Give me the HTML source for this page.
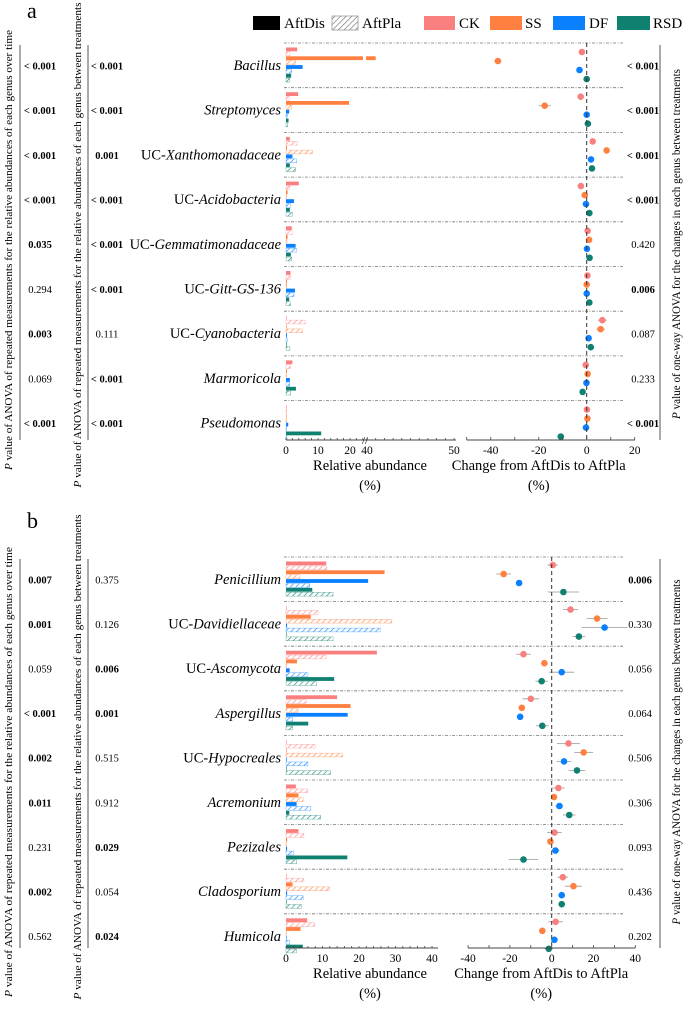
<!DOCTYPE html>
<html><head><meta charset="utf-8">
<style>
html,body{margin:0;padding:0;background:#fff;}
svg{display:block;font-family:"Liberation Serif",serif;}
</style></head>
<body>
<svg id="fig" width="685" height="1010" viewBox="0 0 685 1010" xmlns="http://www.w3.org/2000/svg">
<defs>
<pattern id="hatch-CK" patternUnits="userSpaceOnUse" width="4" height="4" patternTransform="rotate(45)"><line x1="0" y1="0" x2="0" y2="4" stroke="#fa8080" stroke-width="1.2"/></pattern>
<pattern id="hatch-SS" patternUnits="userSpaceOnUse" width="4" height="4" patternTransform="rotate(45)"><line x1="0" y1="0" x2="0" y2="4" stroke="#ff8040" stroke-width="1.2"/></pattern>
<pattern id="hatch-DF" patternUnits="userSpaceOnUse" width="4" height="4" patternTransform="rotate(45)"><line x1="0" y1="0" x2="0" y2="4" stroke="#0a80ff" stroke-width="1.2"/></pattern>
<pattern id="hatch-RSD" patternUnits="userSpaceOnUse" width="4" height="4" patternTransform="rotate(45)"><line x1="0" y1="0" x2="0" y2="4" stroke="#108070" stroke-width="1.2"/></pattern>
<pattern id="hatch-K" patternUnits="userSpaceOnUse" width="4" height="4" patternTransform="rotate(45)"><line x1="0" y1="0" x2="0" y2="4" stroke="#666" stroke-width="1.2"/></pattern>
</defs>
<text x="27" y="18" font-size="22">a</text>
<text x="27" y="528" font-size="22">b</text>
<g>
<rect x="253" y="16" width="27" height="14" fill="#000"/>
<text x="284" y="28" font-size="15">AftDis</text>
<rect x="332" y="16" width="26" height="14" fill="url(#hatch-K)" stroke="#999" stroke-width="0.8"/>
<text x="362" y="28" font-size="15">AftPla</text>
<rect x="424" y="16" width="31" height="14" fill="#fa8080"/>
<text x="459" y="28" font-size="15">CK</text>
<rect x="490" y="16" width="32" height="14" fill="#ff8040"/>
<text x="525" y="28" font-size="15">SS</text>
<rect x="553" y="16" width="32" height="14" fill="#0a80ff"/>
<text x="589" y="28" font-size="15">DF</text>
<rect x="617" y="16" width="33" height="14" fill="#108070"/>
<text x="653" y="28" font-size="15">RSD</text>
</g>
</svg>
<script>
// ---------- data ----------
const treatments = ["CK","SS","DF","RSD"];
const colors = ["#fa8080","#ff8040","#0a80ff","#108070"];
const genusA = ["Bacillus","Streptomyces","UC-Xanthomonadaceae","UC-Acidobacteria","UC-Gemmatimonadaceae","UC-Gitt-GS-136","UC-Cyanobacteria","Marmoricola","Pseudomonas"];
const genusB = ["Penicillium","UC-Davidiellaceae","UC-Ascomycota","Aspergillus","UC-Hypocreales","Acremonium","Pezizales","Cladosporium","Humicola"];
// bars: per genus [CKdis,CKpla,SSdis,SSpla,DFdis,DFpla,RSDdis,RSDpla]
const barsA = [
 [3.5,1.2,41,3,5.2,1.8,1.6,1.2],
 [3.8,1,19.7,1.8,1,0.4,0.8,0.5],
 [1.2,3.5,0.3,8.3,2,3.3,1.2,3],
 [4,1.2,0.5,0.2,2.5,1.5,1.2,2],
 [1.8,2,0.5,0.3,3,3.3,1.5,1.8],
 [1.4,1.4,0.3,0.2,2.8,2.5,1,1.4],
 [0.1,6,0.1,5.2,0.3,0.4,0.2,1.2],
 [2,1.4,0.3,0.1,1.2,1.2,3.1,1.4],
 [0.1,0.1,0.1,0.1,0.7,0.1,11,0.3]
];
const barsB = [
 [11,11.2,27,3.8,22.5,6.5,7.2,12.9],
 [0,8.8,6.8,29,0.3,25.8,0,12.9],
 [24.9,11,3,0,1,6,13.2,8.4],
 [14,5.5,17.7,3.3,16.9,1.8,6.1,1.8],
 [0,8,0,15.5,0.2,6,0,12.2],
 [2.7,6,3.4,4.7,2.9,6.8,0.9,9.5],
 [3.4,4.9,0.3,0,0.3,2,16.8,2.9],
 [0,4.9,1.8,11.9,0.3,4.7,0,4.2],
 [5.8,7.9,4,0,0.1,1,4.6,2.9]
];
// change AftDis->AftPla: per genus [CK,SS,DF,RSD]
const changeA = [
 [-2,-37,-3,0],[-2.5,-17.5,0,0.5],[2.5,8.3,1.8,2.2],[-2.4,-0.8,-0.3,1.1],[0.4,1,0.1,1.2],
 [0.3,0,0,1.1],[6.5,5.8,0.8,1.7],[-0.4,0.4,-0.1,-1.7],[0.1,0.3,-0.3,-10.8]
];
const changeErrA = [
 [0,1.5,0,0],[0,2.5,0,0],[0,0,0,0],[0,0,0,0],[0,0,0,0],[0,0,0,0],[1.8,1.8,0,0],[0,0,0,0],[0,0,0,0]
];
const changeB = [
 [0.5,-23,-15.6,5.6],[9,21.7,25.3,13],[-13.5,-3.5,4.8,-4.8],[-10,-14.3,-15.1,-4.5],[8,15.3,5.9,12.1],
 [3.2,1.1,3.7,8.4],[1.3,-0.6,1.8,-13.5],[5.3,10.4,4.8,4.8],[1.9,-4.5,1.3,-1.4]
];
const changeErrB = [
 [2.5,3.5,0,7.5],[3.5,5,11,3],[3.5,0,6,3],[4,0,0,3],[5.5,4.5,3.5,4],
 [3,0,2,3],[3.5,0,2,7],[2.5,4,0,0],[3.5,0,0,2]
];
const pTimeA = ["< 0.001","< 0.001","< 0.001","< 0.001","0.035","0.294","0.003","0.069","< 0.001"];
const pTimeABold = [1,1,1,1,1,0,1,0,1];
const pTrtA = ["< 0.001","< 0.001","0.001","< 0.001","< 0.001","< 0.001","0.111","< 0.001","< 0.001"];
const pTrtABold = [1,1,1,1,1,1,0,1,1];
const pChgA = ["< 0.001","< 0.001","< 0.001","< 0.001","0.420","0.006","0.087","0.233","< 0.001"];
const pChgABold = [1,1,1,1,0,1,0,0,1];
const pTimeB = ["0.007","0.001","0.059","< 0.001","0.002","0.011","0.231","0.002","0.562"];
const pTimeBBold = [1,1,0,1,1,1,0,1,0];
const pTrtB = ["0.375","0.126","0.006","0.001","0.515","0.912","0.029","0.054","0.024"];
const pTrtBBold = [0,0,1,1,0,0,1,0,1];
const pChgB = ["0.006","0.330","0.056","0.064","0.506","0.306","0.093","0.436","0.202"];
const pChgBBold = [1,0,0,0,0,0,0,0,0];
const ticksBarA = [0,10,20,40,50];
const ticksBarB = [0,10,20,30,40];
const ticksChgA = [-40,-20,0,20];
const ticksChgB = [-40,-20,0,20,40];

// ---------- drawing ----------
const svg = document.getElementById('fig');
const NS = "http://www.w3.org/2000/svg";
function mk(tag, attrs, parent){
  const e = document.createElementNS(NS, tag);
  for (const k in attrs) e.setAttribute(k, attrs[k]);
  (parent||svg).appendChild(e);
  return e;
}
function xBarA(v){ return v <= 25 ? 286 + v*3.2 : 367 + (v-40)*8.7; }
function xBarB(v){ return 286 + v*3.65; }
function xChgA(v){ return 586.7 + v*2.4; }
function xChgB(v){ return 551.7 + v*2.09; }

function panel(cfg){
  const g = mk('g', {});
  
  
  const n = cfg.genus.length;
  for (let i=0;i<n;i++){
    const sep = cfg.top + i*cfg.pitch;
    const sl = mk('line', {x1:284, x2:624, y1:sep, y2:sep, stroke:'#777', 'stroke-width':0.8, 'stroke-dasharray':'3,1.5,1,1.5'}, g);
    
    
    const name = cfg.genus[i];
    const t = mk('text', {x:281, y:sep+27, 'font-size':14.5, 'text-anchor':'end'}, g);
    
    
    if (name.startsWith('UC-')){
      const a = mk('tspan', {}, t); a.textContent = 'UC-';
      const b = mk('tspan', {'font-style':'italic'}, t); b.textContent = name.slice(3);
    } else { t.setAttribute('font-style','italic'); t.textContent = name; }
    const vals = cfg.bars[i];
    for (let j=0;j<8;j++){
      const tr = Math.floor(j/2), pla = j%2===1;
      const y = sep + 4.5 + j*4.4;
      const w = Math.max(0.6, cfg.xBar(vals[j]) - 286);
      const r = mk('rect', {x:286, y:y, width:w, height:3.8,
        fill: pla ? 'url(#hatch-'+treatments[tr]+')' : colors[tr],
        stroke: pla ? colors[tr] : 'none', 'stroke-width':0.5, 'stroke-opacity':0.6}, g);
      
      
      if (cfg.brk && vals[j] > 25){
        const gap = mk('rect', {x:363, y:y-0.5, width:3, height:5, fill:'#fff'}, g);
        
        
      }
    }
    for (let k=0;k<4;k++){
      const y = sep + cfg.dotOff + k*9;
      const v = cfg.chg[i][k], e = cfg.chgErr[i][k];
      if (e > 0){
        const el = mk('line', {x1:cfg.xChg(v-e), x2:cfg.xChg(v+e), y1:y, y2:y, stroke:'#999', 'stroke-width':0.8}, g);
        
        
      }
      const c = mk('circle', {cx:cfg.xChg(v), cy:y, r:3.3, fill:colors[k]}, g);
      
      
    }
    const cy = sep + cfg.pitch/2 + 4;
    const p1 = mk('text', {x:40, y:cy, 'font-size':10.5, 'text-anchor':'middle', 'font-weight': cfg.pTimeBold[i]?'bold':'normal'}, g);
    p1.textContent = cfg.pTime[i];
    
    
    const p2 = mk('text', {x:107, y:cy, 'font-size':10.5, 'text-anchor':'middle', 'font-weight': cfg.pTrtBold[i]?'bold':'normal'}, g);
    p2.textContent = cfg.pTrt[i];
    
    
    const p3 = mk('text', {x:cfg.pChgX, y:cy, 'font-size':10.5, 'text-anchor':'middle', 'font-weight': cfg.pChgBold[i]?'bold':'normal'}, g);
    p3.textContent = cfg.pChg[i];
    
    
  }
  const ax = cfg.axisY;
  const zl = mk('line', {x1:cfg.xChg(0), x2:cfg.xChg(0), y1:cfg.top, y2:ax, stroke:'#333', 'stroke-width':1, 'stroke-dasharray':'4,3'}, g);
  
  
  const bx = mk('line', {x1:286, x2:cfg.barAxisEnd, y1:ax, y2:ax, stroke:'#444', 'stroke-width':1}, g);
  
  
  for (const v of cfg.minorBar){
    const tk = mk('line', {x1:cfg.xBar(v), x2:cfg.xBar(v), y1:ax, y2:ax-2, stroke:'#444', 'stroke-width':0.8}, g);
    
    
  }
  for (const v of cfg.ticksBar){
    const tl = mk('text', {x:cfg.xBar(v), y:ax+14, 'font-size':11.5, 'text-anchor':'middle'}, g);
    tl.textContent = v;
    
    
  }
  if (cfg.brk){
    const bk = mk('text', {x:365, y:ax+4, 'font-size':11, 'text-anchor':'middle'}, g);
    bk.textContent = '//';
    
    
  }
  const bt = mk('text', {x:370, y:ax+30, 'font-size':14.5, 'text-anchor':'middle'}, g);
  bt.textContent = 'Relative abundance';
  
  
  const bt2 = mk('text', {x:370, y:ax+50, 'font-size':14.5, 'text-anchor':'middle'}, g);
  bt2.textContent = '(%)';
  
  
  const cx = mk('line', {x1:cfg.xChg(cfg.chgMin), x2:cfg.xChg(cfg.chgMax), y1:ax, y2:ax, stroke:'#444', 'stroke-width':1}, g);
  
  
  for (let v=cfg.chgMin; v<=cfg.chgMax; v+=10){
    const tk = mk('line', {x1:cfg.xChg(v), x2:cfg.xChg(v), y1:ax, y2:ax-3, stroke:'#444', 'stroke-width':0.8}, g);
    
    
  }
  for (const v of cfg.ticksChg){
    const tl = mk('text', {x:cfg.xChg(v), y:ax+14, 'font-size':11.5, 'text-anchor':'middle'}, g);
    tl.textContent = v;
    
    
  }
  const ct = mk('text', {x:cfg.xChg(cfg.titleAt), y:ax+30, 'font-size':14.5, 'text-anchor':'middle'}, g);
  ct.textContent = 'Change from AftDis to AftPla';
  
  
  const ct2 = mk('text', {x:cfg.xChg(cfg.titleAt), y:ax+50, 'font-size':14.5, 'text-anchor':'middle'}, g);
  ct2.textContent = '(%)';
  
  
  for (const x of [20, 88, 660]){
    const vl = mk('line', {x1:x, x2:x, y1:cfg.top+2, y2:ax, stroke:'#555', 'stroke-width':1}, g);
    
    
  }
  const r1 = mk('text', {x:0, y:0, 'font-size':10.5, 'text-anchor':'middle', transform:'translate(12,'+cfg.rotMid1+') rotate(-90)', textLength:cfg.rotLen1, lengthAdjust:'spacingAndGlyphs'}, g);
  r1.innerHTML = '<tspan font-style="italic">P</tspan> value of ANOVA of repeated measurements for the relative abundances of each genus over time';
  
  
  const r2 = mk('text', {x:0, y:0, 'font-size':10.5, 'text-anchor':'middle', transform:'translate(81,'+cfg.rotMid2+') rotate(-90)', textLength:cfg.rotLen2, lengthAdjust:'spacingAndGlyphs'}, g);
  r2.innerHTML = '<tspan font-style="italic">P</tspan> value of ANOVA of repeated measurements for the relative abundances of each genus between treatments';
  
  
  const r3 = mk('text', {x:0, y:0, 'font-size':11.5, 'text-anchor':'middle', transform:'translate(680,'+cfg.rotMid3+') rotate(-90)', textLength:cfg.rotLen3, lengthAdjust:'spacingAndGlyphs'}, g);
  r3.innerHTML = '<tspan font-style="italic">P</tspan> value of one-way ANOVA for the changes in each genus between treatments';
  
  
}

const minorA = []; for (let v=0; v<=24; v+=2) minorA.push(v); for (let v=40; v<=50; v+=1) minorA.push(v);
const minorB = []; for (let v=0; v<=40; v+=2) minorB.push(v);

panel({name:'panel-a-bacteria', genus:genusA, bars:barsA, chg:changeA, chgErr:changeErrA,
  top:43, pitch:44.7, dotOff:9, axisY:440, xBar:xBarA, xChg:xChgA, brk:true, barAxisEnd:456,
  minorBar:minorA, ticksBar:ticksBarA, ticksChg:ticksChgA, chgMin:-50, chgMax:20, titleAt:-20,
  pTime:pTimeA, pTimeBold:pTimeABold, pTrt:pTrtA, pTrtBold:pTrtABold, pChg:pChgA, pChgBold:pChgABold, pChgX:643,
  rotMid1:250, rotLen1:440, rotMid2:245, rotLen2:485, rotMid3:244, rotLen3:350});
panel({name:'panel-b-fungi', genus:genusB, bars:barsB, chg:changeB, chgErr:changeErrB,
  top:557, pitch:44.6, dotOff:8, axisY:948, xBar:xBarB, xChg:xChgB, brk:false, barAxisEnd:438,
  minorBar:minorB, ticksBar:ticksBarB, ticksChg:ticksChgB, chgMin:-40, chgMax:40, titleAt:-5,
  pTime:pTimeB, pTimeBold:pTimeBBold, pTrt:pTrtB, pTrtBold:pTrtBBold, pChg:pChgB, pChgBold:pChgBBold, pChgX:640,
  rotMid1:772, rotLen1:450, rotMid2:757, rotLen2:485, rotMid3:752, rotLen3:345});
</script>
</body></html>
